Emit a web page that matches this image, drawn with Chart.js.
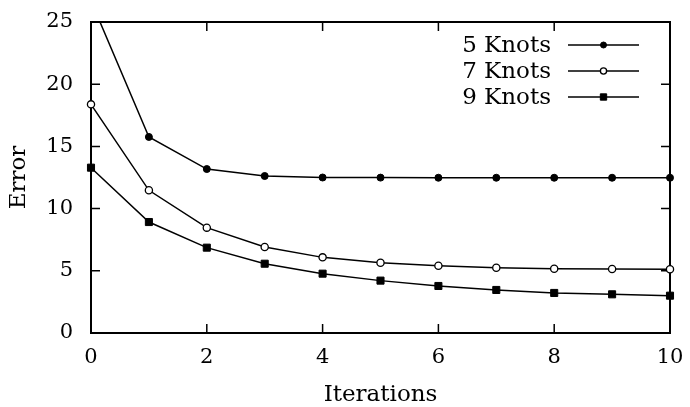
<!DOCTYPE html>
<html>
<head>
<meta charset="utf-8">
<script src="https://cdn.jsdelivr.net/npm/chart.js@4/dist/chart.umd.min.js"></script>
<style>
  html, body { margin: 0; padding: 0; background: #fff; }
  #wrap { width: 690px; height: 407px; }
</style>
</head>
<body>
<div id="wrap"><canvas id="errChart" width="690" height="407"></canvas></div>
<script>
// values
const iterations = [0, 1, 2, 3, 4, 5, 6, 7, 8, 9, 10];
const knots5 = [26.7, 15.76, 13.18, 12.62, 12.5, 12.49, 12.48, 12.48, 12.48, 12.48, 12.48];
const knots7 = [18.38, 11.47, 8.47, 6.91, 6.08, 5.65, 5.41, 5.25, 5.17, 5.15, 5.12];
const knots9 = [13.29, 8.92, 6.86, 5.57, 4.77, 4.21, 3.78, 3.46, 3.22, 3.11, 3.0];
const seriesNames = ['5 Knots', '7 Knots', '9 Knots'];
const xTicks = [0, 2, 4, 6, 8, 10];
const yTicks = [0, 5, 10, 15, 20, 25];

const FONT = "'DejaVu Serif', serif";

function toPoints(ys) {
    return iterations.map((x, i) => ({ x: x, y: ys[i] }));
}

function makeSet(label, ys, style) {
    return Object.assign({
        label: label,
        data: toPoints(ys),
        borderColor: '#000',
        borderWidth: 1.5,
        pointBorderColor: '#000',
        pointBackgroundColor: '#000',
        pointBorderWidth: 1,
        tension: 0,
        clip: { left: 8, right: 8, top: 0, bottom: 8 }
    }, style);
}

// box around plot + inward ticks on every side
const framePlugin = {
    id: 'frame',
    beforeDatasetsDraw(chart) {
        const { ctx, chartArea: a, scales } = chart;
        const tl = 9;
        ctx.save();
        ctx.strokeStyle = '#000';
        ctx.lineWidth = 1.5;
        ctx.beginPath();
        xTicks.forEach(v => {
            const px = scales.x.getPixelForValue(v);
            ctx.moveTo(px, a.bottom); ctx.lineTo(px, a.bottom - tl);
            ctx.moveTo(px, a.top); ctx.lineTo(px, a.top + tl);
        });
        yTicks.forEach(v => {
            const py = scales.y.getPixelForValue(v);
            ctx.moveTo(a.left, py); ctx.lineTo(a.left + tl, py);
            ctx.moveTo(a.right, py); ctx.lineTo(a.right - tl, py);
        });
        ctx.stroke();
        ctx.lineWidth = 2;
        ctx.strokeRect(a.left, a.top, a.right - a.left, a.bottom - a.top);
        ctx.restore();
    }
};

// gnuplot style key: text right aligned, sample line with marker to its right
const keyPlugin = {
    id: 'key',
    afterDatasetsDraw(chart) {
        const { ctx } = chart;
        const textRight = 551, lineL = 568, lineR = 639, y0 = 45, step = 26;
        ctx.save();
        ctx.font = '23px ' + FONT;
        ctx.textAlign = 'right';
        ctx.textBaseline = 'middle';
        chart.data.datasets.forEach((ds, i) => {
            const y = y0 + i * step;
            ctx.fillStyle = '#000';
            ctx.fillText(ds.label, textRight, y + 1);
            ctx.strokeStyle = ds.borderColor;
            ctx.lineWidth = ds.borderWidth;
            ctx.beginPath();
            ctx.moveTo(lineL, y); ctx.lineTo(lineR, y);
            ctx.stroke();
            ctx.fillStyle = ds.pointBackgroundColor;
            ctx.strokeStyle = ds.pointBorderColor;
            ctx.lineWidth = ds.pointBorderWidth;
            Chart.helpers.drawPoint(ctx, {
                pointStyle: ds.pointStyle, radius: ds.pointRadius - 0.5, rotation: 0, borderWidth: ds.pointBorderWidth
            }, (lineL + lineR) / 2, y);
        });
        ctx.restore();
    }
};

const chart = new Chart(document.getElementById('errChart'), {
    type: 'line',
    data: {
        datasets: [
            makeSet(seriesNames[0], knots5, { pointStyle: 'circle', pointRadius: 3.5 }),
            makeSet(seriesNames[1], knots7, { pointStyle: 'circle', pointRadius: 3.6, pointBackgroundColor: '#fff', pointBorderWidth: 1.3 }),
            makeSet(seriesNames[2], knots9, { pointStyle: 'rect', pointRadius: 5 })
        ]
    },
    options: {
        responsive: false,
        animation: false,
        events: [],
        layout: { autoPadding: false, padding: { top: 22, right: 20, left: 0, bottom: 0 } },
        plugins: {
            legend: { display: false },
            tooltip: { enabled: false }
        },
        scales: {
            x: {
                type: 'linear',
                min: 0,
                max: 10,
                afterFit(scale) { scale.height = 74; },
                afterBuildTicks(scale) { scale.ticks = xTicks.map(v => ({ value: v })); },
                grid: { display: false, drawTicks: true, tickLength: 12 },
                border: { display: false },
                ticks: { color: '#000', padding: 0, font: { family: FONT, size: 21 } },
                title: {
                    display: true, text: 'Iterations', color: '#000',
                    font: { family: FONT, size: 23, lineHeight: 1 },
                    padding: { top: 0, bottom: 0 }
                }
            },
            y: {
                min: 0,
                max: 25,
                afterFit(scale) { scale.width = 91; },
                afterBuildTicks(scale) { scale.ticks = yTicks.map(v => ({ value: v })); },
                grid: { display: false, drawTicks: true, tickLength: 18 },
                border: { display: false },
                ticks: { color: '#000', padding: 0, font: { family: FONT, size: 21 } },
                title: {
                    display: true, text: 'Error', color: '#000',
                    font: { family: FONT, size: 23, lineHeight: 1 },
                    padding: { top: 8, bottom: 0 }
                }
            }
        }
    },
    plugins: [framePlugin, keyPlugin]
});
</script>
</body>
</html>
